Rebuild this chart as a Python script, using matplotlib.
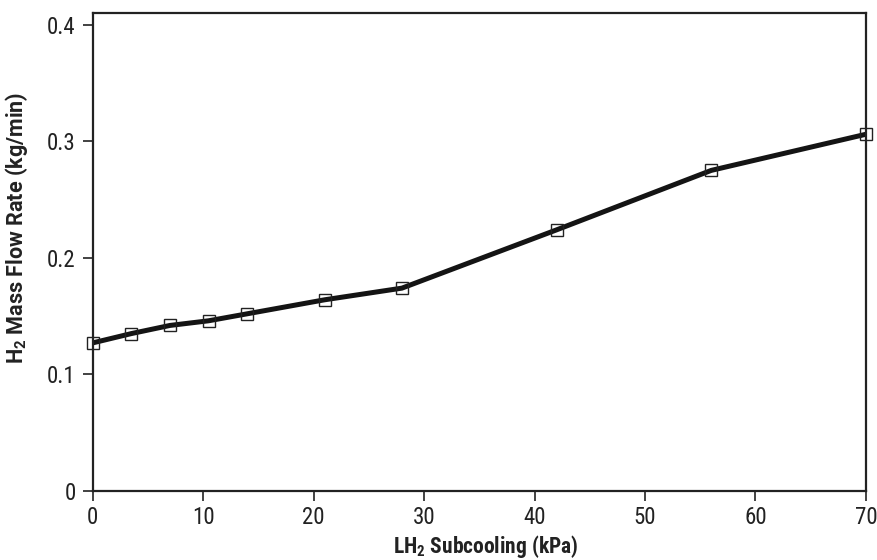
import matplotlib
matplotlib.use("Agg")
import matplotlib.pyplot as plt
from matplotlib import font_manager

subcooling = [0, 3.5, 7, 10.5, 14, 21, 28, 42, 56, 70]
flow_rate = [0.127, 0.135, 0.142, 0.146, 0.152, 0.164, 0.174, 0.224, 0.275, 0.306]
xticks = [0, 10, 20, 30, 40, 50, 60, 70]
yticks = [0, 0.1, 0.2, 0.3, 0.4]
ytick_labels = ["0", "0.1", "0.2", "0.3", "0.4"]

names = {f.name for f in font_manager.fontManager.ttflist}
fam = None
for cand in ["Liberation Sans Narrow", "Roboto Condensed", "Open Sans Condensed",
             "Noto Sans Condensed"]:
    if cand in names:
        fam = cand
        break
if fam is None:
    fam = "DejaVu Sans"
    plt.rcParams["font.stretch"] = "condensed"
wide = "Roboto" if "Roboto" in names else "DejaVu Sans"
plt.rcParams["font.family"] = [fam, "DejaVu Sans"]
plt.rcParams["mathtext.fontset"] = "custom"
plt.rcParams["mathtext.default"] = "regular"

fig = plt.figure(figsize=(8.78, 5.6), dpi=100)
ax = fig.add_axes([0.1054, 0.1232, 0.8809, 0.8536])
ax.plot(subcooling, flow_rate, color="#141414", linewidth=3.6, zorder=2)
ax.plot(subcooling, flow_rate, linestyle="none", marker="s", markersize=9,
        markerfacecolor="none", markeredgecolor="#222222", markeredgewidth=1.0,
        zorder=3, clip_on=False)
ax.set_xlim(0, 70)
ax.set_ylim(0, 0.41)
ax.set_xticks(xticks)
ax.set_yticks(yticks)
ax.set_yticklabels(ytick_labels)
for s in ax.spines.values():
    s.set_linewidth(1.6)
    s.set_color("#222222")
ax.tick_params(direction="out", length=7, width=1.2, colors="#222222",
               labelsize=16.5, labelcolor="#222222")
ax.tick_params(axis="y", pad=5)
ax.tick_params(axis="x", pad=4)
ax.set_xlabel("LH$_2$ Subcooling (kPa)", fontsize=15.5, fontweight="bold",
              color="#222222", family=[fam, "DejaVu Sans"])
ax.set_ylabel("H$_2$ Mass Flow Rate (kg/min)", fontsize=15.5, fontweight="bold",
              color="#222222", family=[wide, "DejaVu Sans"])
ax.xaxis.set_label_coords(0.509, -0.088)
ax.yaxis.set_label_coords(-0.081, 0.55)
fig.savefig("out.png", dpi=100)
